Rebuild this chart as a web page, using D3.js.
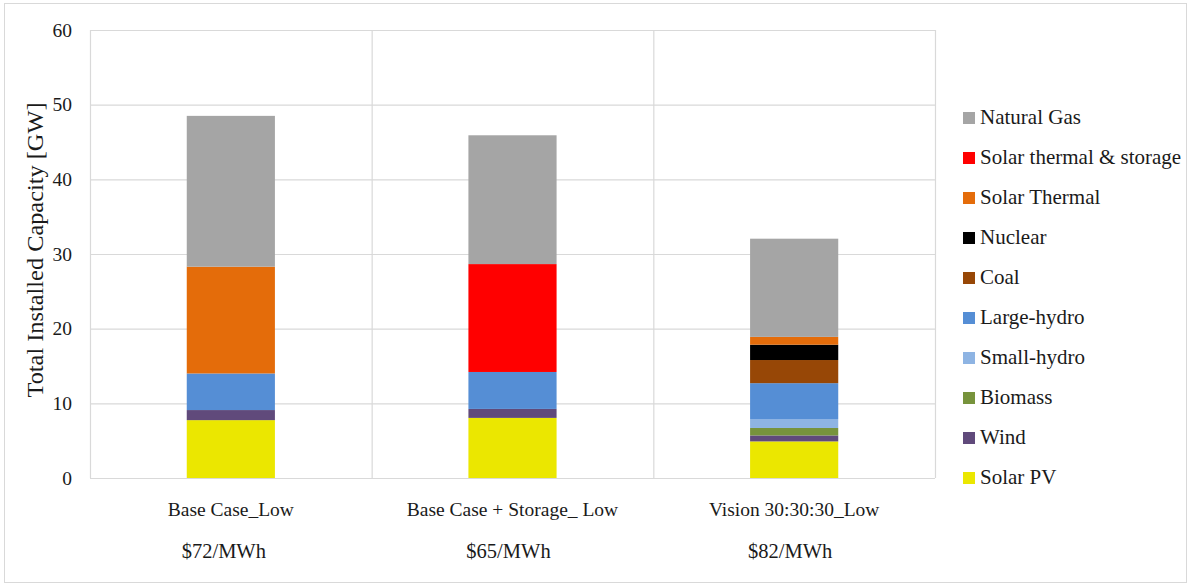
<!DOCTYPE html>
<html><head><meta charset="utf-8">
<script src="https://cdn.jsdelivr.net/npm/d3@7"></script>
<style>body{margin:0;background:#fff;}svg{display:block;}text{font-family:"Liberation Serif","Times New Roman",serif;fill:#1a1a1a;}</style>
</head><body><svg id="c" width="1190" height="587"></svg>
<script>
const categories = ["Base Case_Low", "Base Case + Storage_ Low", "Vision 30:30:30_Low"];
const costs = ["$72/MWh", "$65/MWh", "$82/MWh"];
const seriesNames = ["Solar PV","Wind","Biomass","Small-hydro","Large-hydro","Coal","Nuclear","Solar Thermal","Solar thermal & storage","Natural Gas"];
const colors = ["#EBE700","#604A7B","#77933C","#8EB4E3","#558ED5","#974706","#000000","#E46C0A","#FF0000","#A5A5A5"];
const solarPV = [7.75, 8.05, 4.9];
const wind = [1.35, 1.2, 0.8];
const biomass = [0, 0, 1.0];
const smallHydro = [0, 0, 1.2];
const largeHydro = [4.9, 4.95, 4.8];
const coal = [0, 0, 3.1];
const nuclear = [0, 0, 2.05];
const solarThermal = [14.3, 0, 1.05];
const solarThermalStorage = [0, 14.45, 0];
const naturalGas = [20.2, 17.25, 13.15];
const yTicks = [0,10,20,30,40,50,60];

const seriesVals = [solarPV, wind, biomass, smallHydro, largeHydro, coal, nuclear, solarThermal, solarThermalStorage, naturalGas];
const rows = categories.map((c,i)=>{const r={cat:c}; seriesNames.forEach((s,j)=>r[s]=seriesVals[j][i]); return r;});

const svg = d3.select("#c");
svg.append("rect").attr("x",4.5).attr("y",3.5).attr("width",1182).attr("height",579).attr("fill","none").attr("stroke","#D9D9D9");

const L=90, R=935, T=30, B=478;
const x = d3.scaleBand().domain(categories).range([L,R]).paddingInner(0.687).paddingOuter(0.3435);
const y = d3.scaleLinear().domain([0,60]).range([B,T]);

const g = svg.append("g");
g.selectAll("line.h").data(yTicks).join("line").attr("x1",L).attr("x2",R)
  .attr("y1",d=>y(d)+0.5).attr("y2",d=>y(d)+0.5).attr("stroke","#D9D9D9").attr("stroke-width",1.2);
const step = (R-L)/categories.length;
g.selectAll("line.v").data(d3.range(categories.length+1)).join("line")
  .attr("x1",d=>L+d*step+0.5).attr("x2",d=>L+d*step+0.5).attr("y1",T).attr("y2",B)
  .attr("stroke","#D9D9D9").attr("stroke-width",1.2);

const stack = d3.stack().keys(seriesNames)(rows);
g.selectAll("g.s").data(stack).join("g").attr("fill",(d,i)=>colors[i])
  .selectAll("rect").data(d=>d).join("rect")
  .attr("x",d=>x(d.data.cat)).attr("width",x.bandwidth())
  .attr("y",d=>y(d[1])).attr("height",d=>Math.max(0,y(d[0])-y(d[1])));

const F = "Liberation Serif, Times New Roman, serif";
const ya = svg.append("g").attr("transform",`translate(${L},0)`)
  .call(d3.axisLeft(y).tickValues(yTicks).tickSize(0).tickPadding(18));
ya.select(".domain").remove();
ya.selectAll("text").style("font-size","19.5px").style("font-family",F).attr("fill","#1a1a1a");

const xa = svg.append("g").attr("transform",`translate(0,${B})`)
  .call(d3.axisBottom(x).tickSize(0).tickPadding(0));
xa.select(".domain").remove();
xa.selectAll("text").attr("dy",null).attr("y",38).style("font-size","19.5px").style("font-family",F).attr("fill","#1a1a1a");
const costShift = [-7, -4, -4];
svg.append("g").selectAll("text").data(categories).join("text")
  .attr("x",(d,i)=>x(d)+x.bandwidth()/2+costShift[i]).attr("y",558).attr("text-anchor","middle")
  .style("font-size","20.5px").text((d,i)=>costs[i]);

svg.append("text").attr("transform","translate(43,250) rotate(-90)").attr("text-anchor","middle")
  .style("font-size","22.5px").attr("textLength",295).attr("lengthAdjust","spacingAndGlyphs")
  .text("Total Installed Capacity [GW]");

const legOrder = seriesNames.slice().reverse();
const lg = svg.append("g").selectAll("g").data(legOrder).join("g")
  .attr("transform",(d,i)=>`translate(963,${118+i*40})`);
lg.append("rect").attr("x",0).attr("y",-6).attr("width",12).attr("height",12)
  .attr("fill",d=>colors[seriesNames.indexOf(d)]);
lg.append("text").attr("x",17).attr("y",6).style("font-size","21px").text(d=>d);
</script></body></html>
